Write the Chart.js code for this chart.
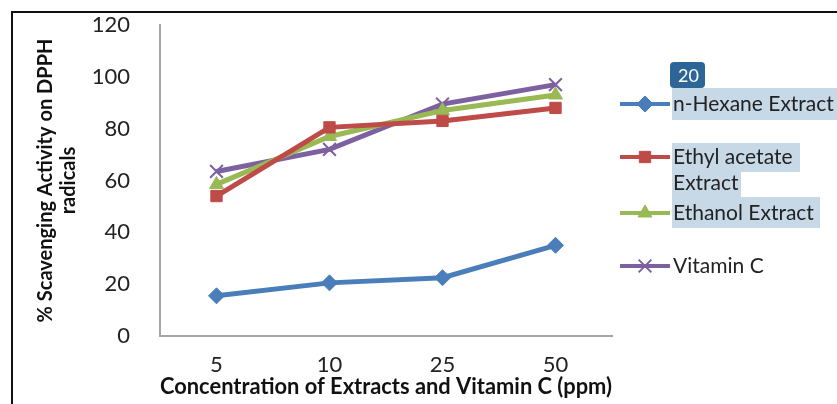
<!DOCTYPE html>
<html>
<head>
<meta charset="utf-8">
<script src="https://cdn.jsdelivr.net/npm/chart.js@4"></script>
<style>
  body { margin: 0; background: #fff; }
  #wrap { position: relative; width: 837px; height: 404px; }
  #frame { position: absolute; left: 11px; top: 11px; width: 840px; height: 400px; border: 2px solid #111; box-sizing: border-box; }
</style>
</head>
<body>
<div id="wrap">
  <div id="frame"></div>
  <canvas id="chart" width="837" height="404"></canvas>
</div>
<script>
// data
const concentrations = ['5', '10', '25', '50'];
const hexane = [15.5, 20.5, 22.5, 35];
const ethylAcetate = [54, 80.5, 83, 88];
const ethanol = [58.5, 77, 87, 93];
const vitaminC = [63.5, 72, 89.5, 97];
const yTicks = [0, 20, 40, 60, 80, 100, 120];

const legendNames = [['n-Hexane Extract'], ['Ethyl acetate', 'Extract'], ['Ethanol Extract'], ['Vitamin C']];

const font = 'Lato, "Open Sans", sans-serif';

// legend on the right, drawn on the canvas from the datasets
const sideLegend = {
  id: 'sideLegend',
  afterDraw(chart) {
    const ctx = chart.ctx;
    const rows = [104, 157, 213, 266];
    ctx.save();
    // highlight marks from the source document
    ctx.fillStyle = 'rgba(180,203,222,0.75)';
    ctx.fillRect(672, 88, 170, 32);
    ctx.fillRect(672, 143, 128, 29);
    ctx.fillRect(672, 172, 69, 25);
    ctx.fillRect(672, 197, 148, 31);
    ctx.fillStyle = '#2d6596';
    ctx.beginPath();
    ctx.roundRect(670, 62, 35, 26, 4);
    ctx.fill();
    ctx.fillStyle = '#fff';
    ctx.font = '18px ' + font;
    ctx.textBaseline = 'middle';
    ctx.fillText('20', 678, 76);

    chart.data.datasets.forEach((ds, i) => {
      const y = rows[i];
      ctx.strokeStyle = ds.borderColor;
      ctx.lineWidth = 4;
      ctx.beginPath();
      ctx.moveTo(620, y);
      ctx.lineTo(670, y);
      ctx.stroke();
      ctx.fillStyle = ds.backgroundColor;
      ctx.strokeStyle = ds.pointBorderColor || ds.borderColor;
      ctx.lineWidth = ds.pointStyle.startsWith('cross') ? 2 : 1;
      Chart.helpers.drawPoint(ctx, { pointStyle: ds.pointStyle, radius: ds.pointRadius, borderWidth: ctx.lineWidth, rotation: 0 }, 645, y);
      ctx.fillStyle = '#222';
      ctx.font = '21px ' + font;
      ctx.textBaseline = 'middle';
      legendNames[i].forEach((t, k) => ctx.fillText(t, 673, y + k * 26));
    });
    ctx.restore();
  }
};

new Chart(document.getElementById('chart'), {
  type: 'line',
  data: {
    labels: concentrations,
    datasets: [
      { label: 'n-Hexane Extract', data: hexane, borderColor: '#4a7ebb', backgroundColor: '#4a7ebb', pointStyle: 'rectRot', pointRadius: 8 },
      { label: 'Ethyl acetate Extract', data: ethylAcetate, borderColor: '#be4b48', backgroundColor: '#be4b48', pointStyle: 'rect', pointRadius: 8 },
      { label: 'Ethanol Extract', data: ethanol, borderColor: '#98b954', backgroundColor: '#98b954', pointStyle: 'triangle', pointRadius: 8 },
      { label: 'Vitamin C', data: vitaminC, borderColor: '#7d60a0', backgroundColor: '#7d60a0', pointBorderColor: '#7d60a0', pointStyle: 'crossRot', pointRadius: 9, pointBorderWidth: 2 }
    ]
  },
  options: {
    responsive: false,
    animation: false,
    layout: { padding: { left: 14, right: 225, top: 25, bottom: 0 } },
    elements: { line: { borderWidth: 5, tension: 0 }, point: { borderWidth: 1 } },
    plugins: { legend: { display: false }, tooltip: { enabled: false } },
    scales: {
      x: {
        offset: true,
        grid: { display: false },
        border: { color: '#a6a6a6', width: 2 },
        ticks: { color: '#222', font: { family: font, size: 22 }, padding: 8 },
        title: { display: true, text: 'Concentration of Extracts and Vitamin C (ppm)', color: '#111', font: { family: font, size: 22, weight: 'bold' }, padding: { top: -8 } },
        afterFit(s) { s.height = 68; }
      },
      y: {
        min: 0, max: 120,
        grid: { display: false },
        border: { color: '#a6a6a6', width: 2 },
        afterBuildTicks(s) { s.ticks = yTicks.map(v => ({ value: v })); },
        ticks: { color: '#222', font: { family: font, size: 22 }, padding: 22 },
        title: { display: true, text: ['% Scavenging Activity on DPPH', 'radicals'], color: '#111', font: { family: font, size: 20, weight: 'bold', lineHeight: 1.15 }, padding: { top: 20, bottom: 0 } },
        afterFit(s) { s.width = 146; s.paddingTop = 0; s.paddingBottom = 0; }
      }
    }
  },
  plugins: [sideLegend]
});
</script>
</body>
</html>
